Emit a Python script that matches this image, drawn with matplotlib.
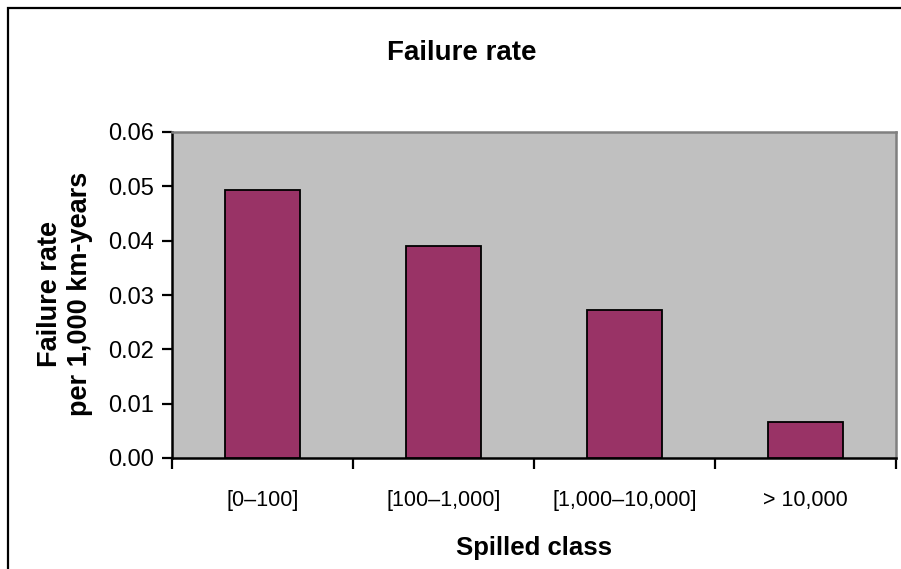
import matplotlib
matplotlib.use("Agg")
import matplotlib.pyplot as plt
from matplotlib.patches import Rectangle
import numpy as np

plt.rcParams['font.family'] = ['Liberation Sans', 'DejaVu Sans']

# Data
categories = ["[0\u2013100]", "[100\u20131,000]", "[1,000\u201310,000]", "> 10,000"]
failure_rate = [0.0493, 0.0390, 0.0272, 0.0066]
y_ticks = [0.00, 0.01, 0.02, 0.03, 0.04, 0.05, 0.06]

W, H = 901, 569
fig = plt.figure(figsize=(W / 100, H / 100), dpi=100)
fig.patch.set_facecolor("white")

# Chart-area border (top and left edges visible)
fig.add_artist(Rectangle((8 / W, -0.2), 1.2, 1.2 - 8 / H,
                         transform=fig.transFigure, fill=False,
                         edgecolor="black", linewidth=1.6, clip_on=False))

left, right, top, bottom = 172, 896, 132, 458
ax = fig.add_axes([left / W, 1 - bottom / H, (right - left) / W, (bottom - top) / H])
ax.set_facecolor("#C0C0C0")

x = np.arange(len(categories))
ax.bar(x, failure_rate, width=0.41, color="#993366", edgecolor="black", linewidth=1.3, zorder=3)

ax.set_xlim(-0.5, len(categories) - 0.5)
ax.set_ylim(0, 0.06)

ax.set_yticks(y_ticks)
ax.set_yticklabels([f"{v:.2f}" for v in y_ticks])
ax.tick_params(axis="y", direction="out", length=7, width=1.6, pad=6, labelsize=17)

# Category ticks sit on boundaries; labels in the middle
ax.set_xticks(np.arange(-0.5, len(categories), 1.0))
ax.set_xticklabels([])
ax.set_xticks(x, minor=True)
ax.set_xticklabels(categories, minor=True)
ax.tick_params(axis="x", which="major", direction="out", length=8, width=1.6)
ax.tick_params(axis="x", which="minor", length=0, pad=23, labelsize=15.5)

for side in ("left", "bottom"):
    ax.spines[side].set_color("black")
    ax.spines[side].set_linewidth(1.8)
for side in ("top", "right"):
    ax.spines[side].set_color("#808080")
    ax.spines[side].set_linewidth(1.8)

fig.text(462 / W, 1 - 60 / H, "Failure rate", ha="center", va="baseline",
         fontsize=20, fontweight="bold")
fig.text(534 / W, 1 - 555 / H, "Spilled class", ha="center", va="baseline",
         fontsize=18.5, fontweight="bold")
fig.text(65 / W, 1 - 294 / H, "Failure rate\nper 1,000 km-years", ha="center", va="center",
         rotation=90, fontsize=19.5, fontweight="bold", linespacing=1.2)

fig.savefig("out.png", dpi=100)
